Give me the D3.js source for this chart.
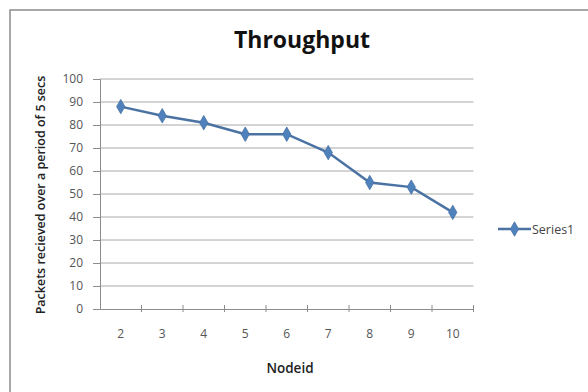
<!DOCTYPE html>
<html><head><meta charset="utf-8">
<script src="https://cdn.jsdelivr.net/npm/d3@7/dist/d3.min.js"></script>
<style>body{margin:0;background:#fff}</style>
</head><body>
<svg id="c" width="588" height="392"></svg>
<script>
const categories = ["2","3","4","5","6","7","8","9","10"];
const values = [88, 84, 81, 76, 76, 68, 55, 53, 42];
const yTicks = [0,10,20,30,40,50,60,70,80,90,100];
const title = "Throughput";
const xTitle = "Nodeid";
const yTitle = "Packets recieved over a period of 5 secs";
const seriesName = "Series1";

(function () {
const svg = d3.select("#c");
const font = "'Open Sans', 'Liberation Sans', sans-serif";
const pL = 100, pR = 473.5, pT = 79, pB = 309;
const x = d3.scaleBand().domain(categories).range([pL, pR]);
const y = d3.scaleLinear().domain([0, 100]).range([pB, pT]);

svg.append("rect").attr("x", 10).attr("y", 10).attr("width", 600).attr("height", 400)
  .attr("fill", "#fff").attr("stroke", "#8c8c8c").attr("stroke-width", 1.5);

// gridlines
svg.append("g").selectAll("line").data(yTicks.filter(d => d > 0)).join("line")
  .attr("x1", pL).attr("x2", pR).attr("y1", d => y(d)).attr("y2", d => y(d))
  .attr("stroke", "#a8a8a8").attr("stroke-width", 1);

// y axis
const ya = svg.append("g").attr("transform", `translate(${pL},0)`)
  .call(d3.axisLeft(y).tickValues(yTicks).tickSize(7).tickPadding(10));
ya.select(".domain").attr("stroke", "#8c8c8c");
ya.selectAll(".tick line").attr("stroke", "#8c8c8c");
ya.selectAll("text").attr("font-family", font).attr("font-size", 12).attr("fill", "#555");

// x axis
const xa = svg.append("g").attr("transform", `translate(0,${pB})`)
  .call(d3.axisBottom(x).tickSize(0).tickPadding(20));
xa.select(".domain").attr("stroke", "#8c8c8c");
xa.selectAll("text").attr("font-family", font).attr("font-size", 12).attr("fill", "#555");
xa.selectAll(".bnd").data(categories.slice(1).concat(["_end"])).join("line")
  .attr("x1", (d, i) => pL + (i + 1) * x.step()).attr("x2", (d, i) => pL + (i + 1) * x.step())
  .attr("y1", -4).attr("y2", 3).attr("stroke", "#8c8c8c");

// line
const cx = d => x(d) + x.bandwidth() / 2;
const line = d3.line().x((d, i) => cx(categories[i])).y(d => y(d));
svg.append("path").datum(values).attr("d", line).attr("fill", "none")
  .attr("stroke", "#4a72a3").attr("stroke-width", 2.5);
const diamond = d3.symbol().type(d3.symbolDiamond).size(60);
svg.append("g").selectAll("path").data(values).join("path")
  .attr("d", diamond).attr("transform", (d, i) => `translate(${cx(categories[i])},${y(d)})`)
  .attr("fill", "#4F81BD").attr("stroke", "#4a72a3").attr("stroke-width", 0.8);

// titles
svg.append("text").attr("x", 302).attr("y", 48).attr("text-anchor", "middle")
  .attr("font-family", font).attr("font-weight", "bold").attr("font-size", 23).attr("fill", "#111").text(title);
svg.append("text").attr("x", 290).attr("y", 373).attr("text-anchor", "middle")
  .attr("font-family", font).attr("font-weight", 600).attr("font-size", 13.5).attr("fill", "#222").text(xTitle);
svg.append("text").attr("transform", `translate(45,195) rotate(-90)`).attr("text-anchor", "middle")
  .attr("font-family", font).attr("font-weight", 600).attr("font-size", 12.5).attr("fill", "#222").text(yTitle);

// legend
const ly = 229;
svg.append("line").attr("x1", 498).attr("x2", 531).attr("y1", ly).attr("y2", ly)
  .attr("stroke", "#4a72a3").attr("stroke-width", 2.5);
svg.append("path").attr("d", diamond).attr("transform", `translate(514.5,${ly})`)
  .attr("fill", "#4F81BD").attr("stroke", "#4a72a3").attr("stroke-width", 0.8);
svg.append("text").attr("x", 532).attr("y", ly + 4.5).attr("font-family", font)
  .attr("font-size", 12.5).attr("fill", "#444").text(seriesName);
})();
</script>
</body></html>
